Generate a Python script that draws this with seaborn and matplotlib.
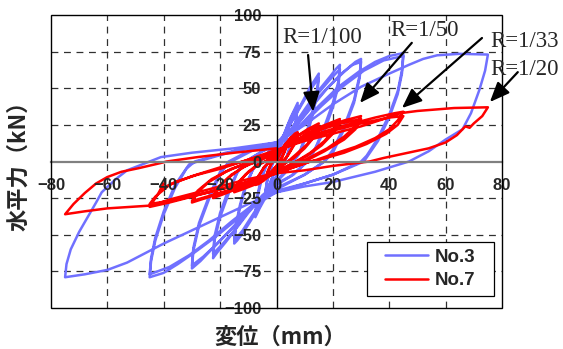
import numpy as np
import pandas as pd
import matplotlib
matplotlib.use("Agg")
import matplotlib.pyplot as plt
from matplotlib.patches import Rectangle
import seaborn as sns

# ---- data: (displacement mm, horizontal force kN) vertices per drift level ----
# No.3 (blue)
no3_r400 = [(0, 0), (1.5, 10), (3, 18), (4, 23), (3.5, 16), (2, 6), (1, 0), (-0.5, -6), (-2, -13), (-3.2, -19),
            (-4, -22), (-3.4, -14), (-2, -5), (-1, 0), (0.5, 7), (2, 15), (3.2, 20), (4, 22), (3.4, 14), (2, 4),
            (1, -1), (-1, -9), (-2.5, -16), (-4, -21), (-3.3, -13), (-2, -4), (-1, 1), (0, 5)]
no3_r200 = [(1.5, 12), (3, 20), (5, 30), (6.5, 36), (7.5, 40), (7, 30), (5.5, 16), (4, 5), (3, 0), (1, -7),
            (-1.5, -15), (-4, -25), (-6, -32), (-7.5, -38), (-7, -27), (-5.5, -14), (-4, -4), (-3, 0), (-1, 6),
            (1.5, 13), (4, 25), (6, 33), (7.5, 38), (7, 28), (5.5, 14), (3, 0), (0, -10), (-3, -20), (-5.5, -29),
            (-7.5, -36), (-7, -25), (-5.5, -12), (-3, 0), (0, 9)]
no3_r100 = [(3, 18), (6, 30), (9, 40), (12, 51), (14, 57), (15, 60), (14.5, 50), (13, 36), (11, 22), (8.5, 8),
            (6, 0), (3, -8), (0, -14), (-3, -21), (-6, -30), (-9, -40), (-12, -49), (-14, -54), (-15, -56),
            (-14.5, -46), (-13, -32), (-11, -18), (-8.5, -6), (-6, 0), (-3, 6), (0, 12),
            (3, 19), (6, 29), (9, 39), (12, 49), (15, 57), (14.5, 47), (13, 33), (11, 19), (8, 5), (6, 0),
            (3, -7), (0, -13), (-3, -20), (-6, -29), (-9, -38), (-12, -47), (-15, -54), (-14.5, -44),
            (-13, -30), (-11, -16), (-8, -4), (-6, 0), (-3, 6), (0, 11)]
no3_r67 = [(4, 19), (8, 30), (12, 41), (16, 51), (19, 58), (21, 63), (22.5, 66), (22, 55), (20, 40), (17, 24),
           (14, 10), (11, 0), (6, -9), (0, -16), (-5, -24), (-10, -35), (-14, -45), (-18, -55), (-21, -62),
           (-22.5, -66), (-22, -54), (-20, -38), (-17, -22), (-14, -8), (-11, 0), (-5, 7), (0, 12),
           (5, 21), (10, 34), (15, 47), (19, 56), (22.5, 63), (22, 52), (20, 37), (17, 21), (13, 6), (11, 0),
           (5, -10), (0, -15), (-5, -23), (-10, -34), (-15, -47), (-19, -56), (-22.5, -63), (-22, -51),
           (-20, -35), (-17, -19), (-13, -4), (-11, 0), (-5, 7), (0, 11)]
no3_r50 = [(5, 20), (10, 32), (15, 44), (20, 54), (25, 63), (28, 68), (30, 70), (29.5, 59), (27.5, 42), (24, 24),
           (20, 8), (17, 0), (10, -9), (3, -16), (-3, -22), (-8, -30), (-13, -40), (-18, -50), (-23, -60),
           (-27, -68), (-30, -73), (-29.5, -61), (-27.5, -44), (-24, -26), (-20, -9), (-17, 0), (-10, 7), (0, 12),
           (6, 22), (12, 36), (18, 50), (23, 60), (27, 66), (30, 68), (29.5, 57), (27.5, 40), (24, 22), (20, 6),
           (17, 0), (10, -9), (0, -18), (-8, -29), (-15, -44), (-21, -56), (-26, -65), (-30, -71), (-29.5, -59),
           (-27.5, -42), (-24, -24), (-20, -7), (-16, 0), (-8, 8), (0, 12)]
no3_r33 = [(8, 24), (15, 38), (22, 51), (29, 61), (35, 68), (40, 72), (45, 74), (44.5, 62), (43, 48), (40, 32),
           (36, 16), (32, 4), (30, 0), (20, -9), (10, -15), (0, -21), (-8, -30), (-15, -41), (-22, -52),
           (-29, -62), (-35, -70), (-40, -76), (-45, -79), (-44.5, -68), (-43, -54), (-40, -36), (-36, -18),
           (-32, -5), (-29, 0), (-18, 6), (-8, 10), (0, 13),
           (8, 23), (16, 38), (24, 52), (31, 62), (38, 69), (45, 72), (44.5, 60), (43, 46), (40, 30), (36, 14),
           (31, 0), (20, -9), (10, -15), (0, -20), (-8, -29), (-16, -41), (-24, -54), (-31, -64), (-38, -72),
           (-45, -77), (-44.5, -66), (-43, -52), (-40, -34), (-36, -16), (-31, -2), (-28, 0), (-15, 7), (0, 12)]
no3_r20 = [(10, 25), (20, 39), (30, 51), (40, 60), (47, 66), (52, 70), (57, 72.5), (65, 73.5), (75, 73),
           (74, 62), (72, 49), (69, 33), (66, 22), (60, 15), (54, 7), (47, 0), (35, -7), (20, -14), (10, -17),
           (0, -21), (-10, -29), (-20, -38), (-30, -47), (-40, -56), (-46, -62), (-53, -69), (-60, -74),
           (-68, -77), (-75, -79), (-74.5, -70), (-73, -60), (-70, -48), (-67, -38), (-64, -28), (-62, -21),
           (-57, -12), (-53, -6), (-45, 0), (-41, 3), (-30, 6), (-15, 9), (0, 13)]

# No.7 (red)
no7_r400 = [(0, 0), (1.5, 6), (3, 11), (3.75, 13), (3, 8), (2, 3), (1, 0), (0, -3), (-1.5, -7), (-3, -10),
            (-3.75, -11), (-3, -7), (-2, -2), (-1, 0), (0, 3), (1.5, 7), (3, 11), (3.75, 12), (3, 7), (1.5, 1),
            (0, -3), (-1.5, -6), (-3, -9), (-3.75, -10), (-3, -6), (-1.5, 0), (0, 3)]
no7_r200 = [(2, 9), (4.5, 15), (6.5, 19), (7.5, 20), (6.5, 13), (4.5, 6), (3, 1), (2, 0), (0, -5), (-2, -9),
            (-4.5, -13), (-6.5, -15.5), (-7.5, -16), (-6.5, -11), (-4.5, -4), (-2.5, 0), (0, 4), (2.5, 10),
            (5, 16), (7.5, 19), (6.5, 12), (4, 4), (2, 0), (0, -5), (-2.5, -9), (-5, -13), (-7.5, -15),
            (-6.5, -10), (-4, -3), (-2, 0), (0, 4)]
no7_r100 = [(3, 10), (7, 17), (11, 22), (15, 26), (13.5, 19), (11, 12), (7, 5), (4, 0), (0, -6), (-4, -11),
            (-8, -16), (-12, -19), (-15, -21), (-13.5, -15), (-11, -9), (-7, -3), (-4, 0), (0, 5), (4, 12),
            (8, 18), (12, 22), (15, 24), (13.5, 17), (10, 9), (6, 2), (4, 0), (0, -5), (-5, -11), (-10, -16),
            (-15, -20), (-13.5, -14), (-10, -7), (-6, -1), (-4, 0), (0, 5)]
no7_r67 = [(5, 12), (10, 18), (16, 24), (22.5, 29), (20.5, 22), (17, 14), (12, 6), (7, 0), (0, -7), (-6, -12),
           (-12, -17), (-17, -21), (-22.5, -25), (-20.5, -18), (-17, -11), (-12, -4), (-7, 0), (0, 6), (5, 12),
           (11, 19), (17, 24), (22.5, 27), (20.5, 20), (16, 11), (11, 4), (7, 0), (0, -7), (-7, -13),
           (-14, -18), (-22.5, -24), (-20.5, -17), (-16, -9), (-10, -2), (-7, 0), (0, 6)]
no7_r50 = [(6, 13), (12, 19), (18, 24), (24, 28), (30, 31), (28, 24), (24, 17), (18, 9), (12, 3), (9, 0),
           (0, -8), (-8, -14), (-15, -19), (-22, -23), (-30, -28), (-28, -21), (-24, -14), (-18, -7), (-12, -2),
           (-9, 0), (0, 7), (8, 15), (16, 22), (23, 26), (30, 29), (28, 22), (24, 15), (17, 7), (11, 1), (9, 0),
           (0, -7), (-8, -13), (-16, -19), (-23, -23), (-30, -27), (-28, -20), (-23, -12), (-16, -5),
           (-10, -1), (0, 6)]
no7_r33 = [(8, 14), (16, 20), (25, 25), (35, 30), (42, 33), (45, 34), (43, 28), (40, 22), (35, 16), (28, 10),
           (20, 5), (14, 1), (12, 0), (0, -8), (-10, -14), (-20, -19), (-30, -24), (-38, -28), (-45, -31),
           (-42, -22), (-40, -15), (-41, -19), (-36, -14), (-28, -9), (-20, -5), (-12, 0), (0, 7),
           (10, 15), (20, 21), (30, 26), (40, 30), (45, 31), (43, 25), (39, 19), (32, 12), (24, 6), (15, 1),
           (12, 0), (0, -8), (-12, -15), (-24, -21), (-35, -26), (-45, -29), (-43, -24), (-38, -16),
           (-30, -10), (-20, -4), (-12, 0), (0, 8)]
no7_r20 = [(10, 14), (20, 19), (30, 24), (38, 29), (44, 33), (50, 34.5), (63, 36.5), (75, 37), (73, 31),
           (70, 26), (68.5, 23), (67, 24), (64, 18), (60, 13), (54, 9), (48, 6.5), (38, 2.4), (33, 0),
           (20, -3), (10, -6), (0, -8), (-10, -12), (-20, -17), (-30, -22), (-38, -26), (-44, -30), (-52, -31),
           (-60, -32), (-68, -34), (-75, -36), (-72, -29), (-68, -21.5), (-64, -15), (-60, -10.6), (-55, -7),
           (-49, -4.6), (-41, -1), (-39, 0), (-28, 3), (-15, 6), (0, 9)]

x_ticks = [-80, -60, -40, -20, 0, 20, 40, 60, 80]
y_ticks = [-100, -75, -50, -25, 0, 25, 50, 75, 100]

no3 = pd.DataFrame(no3_r400 + no3_r200 + no3_r100 + no3_r67 + no3_r50 + no3_r33 + no3_r20, columns=["x", "y"])
no7 = pd.DataFrame(no7_r400 + no7_r200 + no7_r100 + no7_r67 + no7_r50 + no7_r33 + no7_r20, columns=["x", "y"])

sns.set_style("white")
plt.rcParams["font.family"] = ["Liberation Sans", "DejaVu Sans"]

fig = plt.figure(figsize=(5.63, 3.49), dpi=100)
ax = fig.add_axes([51 / 563, 41 / 349, 451 / 563, 293 / 349])

dash = (0, (5.5, 4.5))
for v in x_ticks:
    if v not in (-80, 0, 80):
        ax.axvline(v, color="#303030", lw=0.9, ls=dash, zorder=0.8)
for v in y_ticks:
    if v not in (-100, 0, 100):
        ax.axhline(v, color="#303030", lw=0.9, ls=dash, zorder=0.8)

sns.lineplot(data=no3, x="x", y="y", sort=False, estimator=None, color="#7070ff", lw=1.8, label="No.3", ax=ax)
sns.lineplot(data=no7, x="x", y="y", sort=False, estimator=None, color="#ff0000", lw=1.8, label="No.7", ax=ax)

ax.set_xlim(-80, 80)
ax.set_ylim(-100, 100)
ax.set_xticks(x_ticks)
ax.set_yticks(y_ticks)
ax.set_xlabel("")
ax.set_ylabel("")
ax.set_axisbelow(False)

# axes through the origin, box around the plot
ax.spines["left"].set_position(("data", 0))
ax.spines["bottom"].set_position(("data", 0))
ax.spines["left"].set_color("black")
ax.spines["left"].set_linewidth(1.0)
ax.spines["bottom"].set_color("#808080")
ax.spines["bottom"].set_linewidth(1.6)
ax.spines["top"].set_visible(False)
ax.spines["right"].set_visible(False)
ax.add_patch(Rectangle((0, 0), 1, 1, transform=ax.transAxes, fill=False, ec="black", lw=1.0,
                       clip_on=False, zorder=3))

ax.tick_params(axis="both", length=0, labelsize=12)
ax.tick_params(axis="x", pad=12)
ax.tick_params(axis="y", pad=11)
for lab in ax.get_xticklabels() + ax.get_yticklabels():
    lab.set_fontweight("bold")

cjk = ["Noto Sans CJK JP", "DejaVu Sans"]
fig.text(280 / 563, 1 - 337 / 349, "変位（mm）", family=cjk, fontweight="bold", fontsize=16,
         ha="center", va="center")
fig.text(19 / 563, 1 - 160 / 349, "水平力（kN）", family=cjk, fontweight="bold", fontsize=16,
         ha="center", va="center", rotation=90)

# drift labels and arrows
serif = ["Liberation Serif", "DejaVu Serif"]
ax.text(2, 81, "R=1/100", family=serif, fontsize=16.5, va="baseline")
ax.text(40.3, 86, "R=1/50", family=serif, fontsize=16.5, va="baseline")
ax.text(75.7, 78, "R=1/33", family=serif, fontsize=16.5, va="baseline")
ax.text(75.7, 59, "R=1/20", family=serif, fontsize=16.5, va="baseline")
arrow = dict(arrowstyle="-|>,head_length=0.6,head_width=0.25", color="black", lw=1.6,
             mutation_scale=20, shrinkA=0, shrinkB=0)
ax.annotate("", xy=(13, 34), xytext=(11.2, 72.7), arrowprops=arrow, annotation_clip=False)
ax.annotate("", xy=(29.6, 40), xytext=(48, 81), arrowprops=arrow, annotation_clip=False)
ax.annotate("", xy=(44.5, 36.5), xytext=(72.9, 84.3), arrowprops=arrow, annotation_clip=False)
ax.annotate("", xy=(75.7, 40.6), xytext=(85.6, 61), arrowprops=arrow, annotation_clip=False)

# legend: framed box drawn separately so its padding matches the original
ax.add_patch(Rectangle((0.7007, 0.041), 0.2816, 0.1843, transform=ax.transAxes, fc="white", ec="black",
                       lw=0.9, zorder=4))
leg = ax.legend(loc="center", bbox_to_anchor=(0.8415, 0.133), frameon=False, handlelength=2.3,
                handletextpad=0.35, borderpad=0, labelspacing=0.35,
                prop={"family": "Liberation Sans", "weight": "bold", "size": 13.5})
leg.set_zorder(5)

fig.savefig("out.png", dpi=100)
